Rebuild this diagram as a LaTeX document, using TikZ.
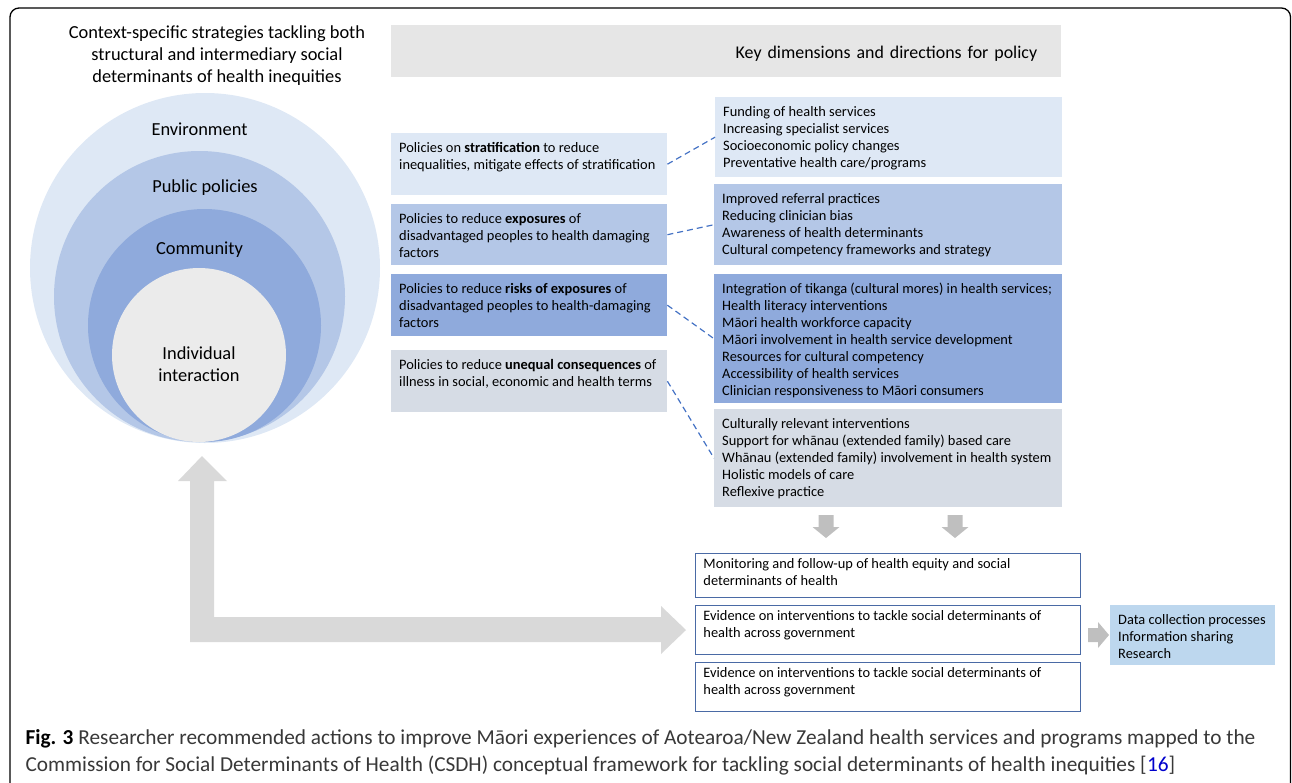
\documentclass[tikz,border=0pt]{standalone}
\usepackage{fontspec}
\setmainfont{Carlito}
\definecolor{birumuda}{HTML}{DEE8F5}
\definecolor{birusedang}{HTML}{B4C7E7}
\definecolor{birutua}{HTML}{8FAADC}
\definecolor{abubiru}{HTML}{D6DCE5}
\definecolor{abumuda}{HTML}{EBEBEB}
\definecolor{abubar}{HTML}{E6E6E6}
\definecolor{birudata}{HTML}{BDD7EE}
\definecolor{garisputus}{HTML}{4472C4}
\definecolor{garisbiru}{HTML}{4A6AA5}
\definecolor{panah}{HTML}{BFBFBF}
\definecolor{panahL}{HTML}{D9D9D9}
\newcommand{\isi}[3]{\parbox[c][#2pt][t]{#1pt}{\vspace*{1pt}\begin{tabular}[t]{@{}l@{}}#3\end{tabular}}}
\begin{document}
\begin{tikzpicture}[x=1pt, y=-1pt,
    kotak/.style={anchor=north west, inner xsep=8pt, inner ysep=6pt, font=\fontsize{14.4}{17}\selectfont},
    kotakgaris/.style={kotak, draw=garisbiru, line width=0.9pt, fill=white, inner ysep=2pt},
    putus/.style={garisputus, line width=1.2pt, dash pattern=on 6pt off 4pt},
    lingkar/.style={font=\fontsize{18.4}{22}\selectfont}]
    \useasboundingbox (0,0) rectangle (1292,782);

    % Bingkai luar
    \draw[line width=1.3pt, rounded corners=9pt] (10,8) rectangle (1290.5,795);

    % Judul kiri
    \node[lingkar, align=center] (judul) at (217,56)
        {Context-specific strategies tackling both\\structural and intermediary social\\determinants of health inequities};

    % Lingkaran konsentris
    \fill[birumuda]   (205,268)   circle [radius=175pt];
    \fill[birusedang] (199.5,296.5) circle [radius=145.5pt];
    \fill[birutua]    (204.5,325.5) circle [radius=116.5pt];
    \fill[abumuda]    (199,355)   circle [radius=87pt];
    \node[lingkar] (env) at (199.5,129) {Environment};
    \node[lingkar] (pub) at (205,188) {Public policies};
    \node[lingkar] (kom) at (199.5,250) {Community};
    \node[lingkar, align=center] (ind) at (199,364) {Individual\\interaction};

    % Bar judul kebijakan
    \node[fill=abubar, anchor=north west, minimum height=52pt, text width=622pt,
        inner xsep=24pt, align=right, text height=14.5pt, text depth=0pt, font=\fontsize{17.9}{20}\selectfont] (bar) at (391,25)
        {Key dimensions and directions for policy};

    % Kotak kebijakan kiri
    \node[kotak, fill=birumuda] (p1) at (391,133) {\isi{260}{50}{Policies on \textbf{stratification} to reduce\\inequalities, mitigate effects of stratification}};
    \node[kotak, fill=birusedang] (p2) at (391,204) {\isi{260}{49}{Policies to reduce \textbf{exposures} of\\disadvantaged peoples to health damaging\\factors}};
    \node[kotak, fill=birutua] (p3) at (391,274) {\isi{260}{50}{Policies to reduce \textbf{risks of exposures} of\\disadvantaged peoples to health-damaging\\factors}};
    \node[kotak, fill=abubiru] (p4) at (391,350) {\isi{260}{50}{Policies to reduce \textbf{unequal consequences} of\\illness in social, economic and health terms}};

    % Kotak tindakan kanan
    \node[kotak, fill=birumuda] (r1) at (715,97) {\isi{331}{68}{Funding of health services\\Increasing specialist services\\Socioeconomic policy changes\\Preventative health care/programs}};
    \node[kotak, fill=birusedang] (r2) at (714,184) {\isi{332}{69}{Improved referral practices\\Reducing clinician bias\\Awareness of health determinants\\Cultural competency frameworks and strategy}};
    \node[kotak, fill=birutua] (r3) at (714,274) {\isi{332}{117}{Integration of tikanga (cultural mores) in health services;\\Health literacy interventions\\Māori health workforce capacity\\Māori involvement in health service development\\Resources for cultural competency\\Accessibility of health services\\Clinician responsiveness to Māori consumers}};
    \node[kotak, fill=abubiru] (r4) at (714,409) {\isi{332}{86}{Culturally relevant interventions\\Support for whānau (extended family) based care\\Whānau (extended family) involvement in health system\\Holistic models of care\\Reflexive practice}};

    % Garis putus-putus penghubung
    \foreach \a/\b in {p1/r1,p2/r2,p3/r3,p4/r4}
        \draw[putus] (\a.east) -- (\b.west);

    % Panah ke bawah
    \foreach \x in {826,955} {
        \fill[panah] (\x-7.5,515) -- (\x+7.5,515) -- (\x+7.5,527) -- (\x+13.5,527)
            -- (\x,538) -- (\x-13.5,527) -- (\x-7.5,527) -- cycle;
    }

    % Kotak pemantauan dan bukti
    \node[kotakgaris] (m1) at (695,553) {\isi{369}{40}{Monitoring and follow-up of health equity and social\\determinants of health}};
    \node[kotakgaris] (m2) at (695,605) {\isi{369}{45}{Evidence on interventions to tackle social determinants of\\health across government}};
    \node[kotakgaris] (m3) at (695,662) {\isi{369}{45}{Evidence on interventions to tackle social determinants of\\health across government}};

    % Panah dan kotak data
    \fill[panah] (1088,628) -- (1098,628) -- (1098,622) -- (1109,635) -- (1098,648)
        -- (1098,642) -- (1088,642) -- cycle;
    \node[kotak, fill=birudata] (data) at (1110,605) {\isi{149}{48}{Data collection processes\\Information sharing\\Research}};

    % Panah besar berbentuk L
    \fill[panahL] (190,642) -- (190,481) -- (178,481) -- (202,456) -- (227,481) -- (214,481)
        -- (214,617) -- (661,617) -- (661,606) -- (686,630) -- (661,654) -- (661,642) -- cycle;

    % Keterangan gambar
    \node[anchor=west, align=left, text=black!78, font=\fontsize{21.3}{27}\selectfont] (ket) at (22,752)
        {\textcolor{black}{\textbf{Fig. 3}} Researcher recommended actions to improve Māori experiences of Aotearoa/New Zealand health services and programs mapped to the\\
        Commission for Social Determinants of Health (CSDH) conceptual framework for tackling social determinants of health inequities [\textcolor{blue!80!black}{16}]};
\end{tikzpicture}
\end{document}
